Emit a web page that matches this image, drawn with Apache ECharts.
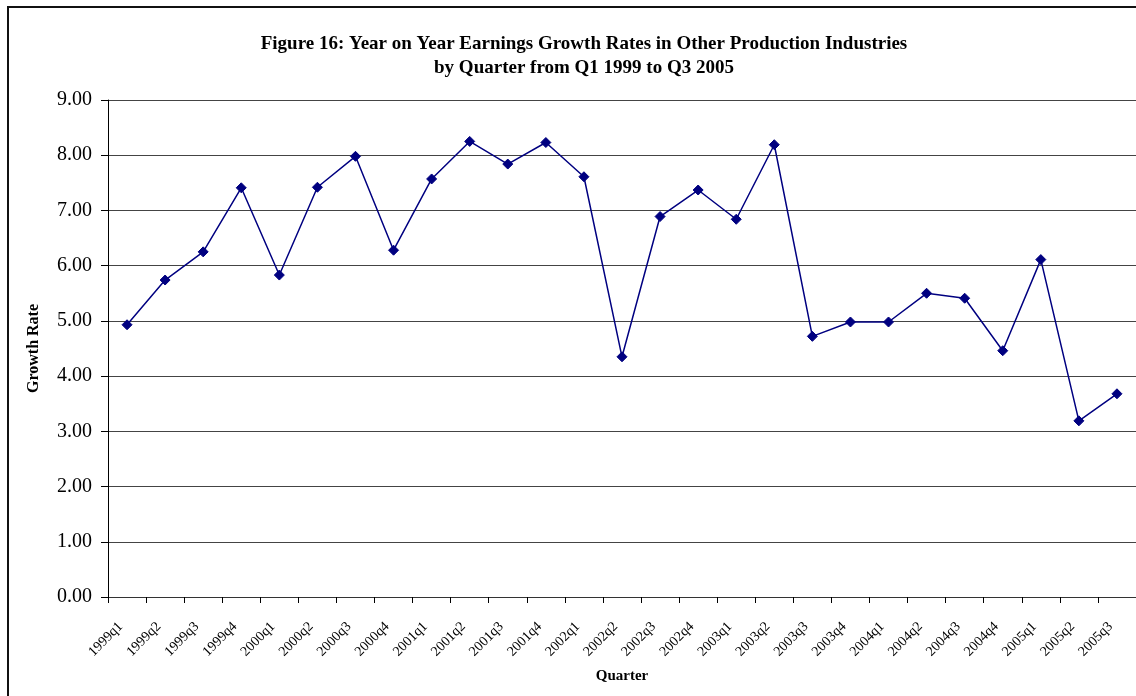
<!DOCTYPE html>
<html>
<head>
<meta charset="utf-8">
<title>Figure 16: Year on Year Earnings Growth Rates</title>
<script src="https://cdn.jsdelivr.net/npm/echarts@6/dist/echarts.min.js"></script>
<style>
  html, body { margin: 0; padding: 0; background: #fff; }
  #chart { width: 1136px; height: 696px; }
</style>
</head>
<body>
<div id="chart"></div>
<script>
// Quarters from 1999 Q1 to 2005 Q3
const quarters = [
  '1999q1', '1999q2', '1999q3', '1999q4',
  '2000q1', '2000q2', '2000q3', '2000q4',
  '2001q1', '2001q2', '2001q3', '2001q4',
  '2002q1', '2002q2', '2002q3', '2002q4',
  '2003q1', '2003q2', '2003q3', '2003q4',
  '2004q1', '2004q2', '2004q3', '2004q4',
  '2005q1', '2005q2', '2005q3'
];

// Year on year earnings growth rate (%) in other production industries
const growthRate = [
  4.93, 5.74, 6.25, 7.41,
  5.83, 7.42, 7.98, 6.28,
  7.57, 8.25, 7.84, 8.23,
  7.61, 4.35, 6.89, 7.37,
  6.84, 8.19, 4.72, 4.98,
  4.98, 5.50, 5.41, 4.46,
  6.11, 3.19, 3.68
];

// Value axis range and step
const yMin = 0;
const yMax = 9;
const yStep = 1;

const serif = '"Liberation Serif", "DejaVu Serif", serif';

const chart = echarts.init(document.getElementById('chart'), null, { renderer: 'canvas' });

chart.setOption({
  animation: false,
  backgroundColor: '#ffffff',
  graphic: [{
    type: 'rect',
    silent: true,
    shape: { x: 8, y: 7, width: 1300, height: 900 },
    style: { fill: 'none', stroke: '#111', lineWidth: 2 }
  }],
  title: {
    text: 'Figure 16: Year on Year Earnings Growth Rates in Other Production Industries\nby Quarter from Q1 1999 to Q3 2005',
    left: 579,
    top: 27,
    textAlign: 'center',
    textStyle: {
      fontFamily: serif,
      fontWeight: 'bold',
      fontSize: 19,
      lineHeight: 24,
      color: '#000'
    }
  },
  grid: {
    left: 108,
    top: 100,
    width: 1029,
    height: 497,
    containLabel: false
  },
  xAxis: {
    type: 'category',
    data: quarters,
    boundaryGap: true,
    name: 'Quarter',
    nameLocation: 'middle',
    nameGap: 72,
    nameTextStyle: {
      fontFamily: serif,
      fontWeight: 'bold',
      fontSize: 15,
      color: '#000'
    },
    axisLine: { show: true, lineStyle: { color: '#333', width: 1 } },
    axisTick: { show: true, length: 6, alignWithLabel: false, interval: 0, lineStyle: { color: '#000' } },
    axisLabel: {
      interval: 0,
      rotate: 45,
      margin: 21,
      padding: [0, 9, 0, 0],
      fontFamily: serif,
      fontSize: 14,
      color: '#000'
    },
    splitLine: { show: false }
  },
  yAxis: {
    type: 'value',
    min: yMin,
    max: yMax,
    interval: yStep,
    name: 'Growth Rate',
    nameLocation: 'middle',
    nameGap: 66,
    nameRotate: 90,
    nameTextStyle: {
      fontFamily: serif,
      fontWeight: 'bold',
      fontSize: 16,
      color: '#000'
    },
    axisLine: { show: true, lineStyle: { color: '#000', width: 1 } },
    axisTick: { show: true, length: 7, inside: false, lineStyle: { color: '#000' } },
    axisLabel: {
      margin: 16,
      fontFamily: serif,
      fontSize: 20,
      color: '#000',
      formatter: v => v.toFixed(2)
    },
    splitLine: { show: true, lineStyle: { color: '#444', width: 1 } }
  },
  series: [{
    type: 'line',
    data: growthRate,
    symbol: 'diamond',
    symbolSize: 10,
    showAllSymbol: true,
    lineStyle: { color: '#000080', width: 1.5 },
    itemStyle: { color: '#000080', borderColor: '#000080' }
  }]
});
</script>
</body>
</html>
